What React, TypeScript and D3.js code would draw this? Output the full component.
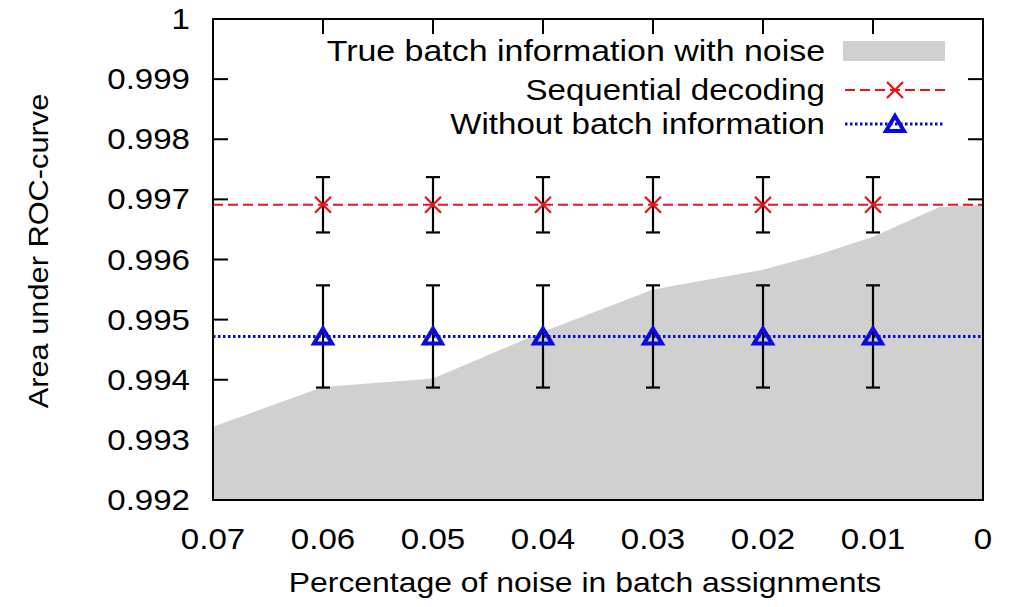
import React from "react";
import * as d3 from "d3";

const xTicks = [0.07, 0.06, 0.05, 0.04, 0.03, 0.02, 0.01, 0];
const xTickLabels = ["0.07", "0.06", "0.05", "0.04", "0.03", "0.02", "0.01", "0"];
const yTicks = [0.992, 0.993, 0.994, 0.995, 0.996, 0.997, 0.998, 0.999, 1];
const yTickLabels = ["0.992", "0.993", "0.994", "0.995", "0.996", "0.997", "0.998", "0.999", "1"];

const noiseLevel = [0.07, 0.06, 0.05, 0.04, 0.03, 0.02, 0.015, 0.01, 0.004, 0];
const noiseAuc = [0.99322, 0.99388, 0.99402, 0.9948, 0.9955, 0.99583, 0.99608, 0.99638, 0.99687, 0.99692];

const errX = [0.06, 0.05, 0.04, 0.03, 0.02, 0.01];
const seqMean = [0.99691, 0.99691, 0.99691, 0.99691, 0.99691, 0.99691];
const seqErr = [0.00046, 0.00046, 0.00046, 0.00046, 0.00046, 0.00046];
const noBatchMean = [0.99472, 0.99472, 0.99472, 0.99472, 0.99472, 0.99472];
const noBatchErr = [0.00085, 0.00085, 0.00085, 0.00085, 0.00085, 0.00085];

const legendLabels = ["True batch information with noise", "Sequential decoding", "Without batch information"];
const xTitle = "Percentage of noise in batch assignments";
const yTitle = "Area under ROC-curve";

const W = 1009, H = 607;
const L = 213, R = 983, T = 19, B = 500;
const FONT = "'Liberation Sans', Arial, Helvetica, sans-serif";
const SX = 1.14;
const RED = "#e8161c";
const BLUE = "#0a0ae0";
const GRAY = "#d0d0d0";

function T2({ x, y, anchor = "middle", size = 29, rotate = 0, sx = SX, children }: any) {
  return (
    <text
      transform={`translate(${x},${y}) rotate(${rotate}) scale(${sx},1)`}
      textAnchor={anchor}
      fontFamily={FONT}
      fontSize={size}
      fill="#000"
    >
      {children}
    </text>
  );
}

function Cross({ cx, cy }: { cx: number; cy: number }) {
  const s = 8;
  return (
    <path d={`M${cx - s},${cy - s}L${cx + s},${cy + s}M${cx - s},${cy + s}L${cx + s},${cy - s}`} stroke={RED} strokeWidth={2.3} fill="none" />
  );
}

function Tri({ cx, cy }: { cx: number; cy: number }) {
  const h = 14, w = 9;
  return (
    <path d={`M${cx},${cy - h / 2 - 1}L${cx + w},${cy + h / 2}L${cx - w},${cy + h / 2}Z`} stroke={BLUE} strokeWidth={4} fill="none" strokeLinejoin="miter" />
  );
}

export default function App() {
  const x = d3.scaleLinear().domain([0.07, 0]).range([L, R]);
  const y = d3.scaleLinear().domain([0.992, 1]).range([B, T]);

  const area = d3
    .area<number>()
    .x((_, i) => x(noiseLevel[i]))
    .y0(B)
    .y1((d) => y(d))
    .curve(d3.curveLinear)(noiseAuc) as string;

  const seqLine = d3.line<number>().x((d) => d).y(y(seqMean[0]))([L, R]) as string;
  const nbLine = d3.line<number>().x((d) => d).y(y(noBatchMean[0]))([L, R]) as string;

  const tickLen = 15;
  const cap = 7;

  return (
    <svg width={W} height={H} style={{ position: "absolute", left: 0, top: 0, background: "#fff" }}>
      <rect x={0} y={0} width={W} height={H} fill="#fff" />
      {/* ticks */}
      <g stroke="#000" strokeWidth={2}>
        {yTicks.map((t) => (
          <g key={"y" + t}>
            <line x1={L} x2={L + tickLen} y1={y(t)} y2={y(t)} />
            <line x1={R} x2={R - tickLen} y1={y(t)} y2={y(t)} />
          </g>
        ))}
        {xTicks.map((t) => (
          <g key={"x" + t}>
            <line x1={x(t)} x2={x(t)} y1={B} y2={B - tickLen} />
            <line x1={x(t)} x2={x(t)} y1={T} y2={T + tickLen} />
          </g>
        ))}
      </g>
      {/* gray area */}
      <path d={area} fill={GRAY} stroke="none" />
      {/* lines */}
      <path d={seqLine} stroke={RED} strokeWidth={2} strokeDasharray="10,5" fill="none" />
      <path d={nbLine} stroke={BLUE} strokeWidth={3} strokeDasharray="2.5,2.5" fill="none" />
      {/* error bars */}
      <g stroke="#000" strokeWidth={2.2}>
        {errX.map((v, i) => (
          <g key={"e1" + i}>
            <line x1={x(v)} x2={x(v)} y1={y(seqMean[i] + seqErr[i])} y2={y(seqMean[i] - seqErr[i])} />
            <line x1={x(v) - cap} x2={x(v) + cap} y1={y(seqMean[i] + seqErr[i])} y2={y(seqMean[i] + seqErr[i])} />
            <line x1={x(v) - cap} x2={x(v) + cap} y1={y(seqMean[i] - seqErr[i])} y2={y(seqMean[i] - seqErr[i])} />
            <line x1={x(v)} x2={x(v)} y1={y(noBatchMean[i] + noBatchErr[i])} y2={y(noBatchMean[i] - noBatchErr[i])} />
            <line x1={x(v) - cap} x2={x(v) + cap} y1={y(noBatchMean[i] + noBatchErr[i])} y2={y(noBatchMean[i] + noBatchErr[i])} />
            <line x1={x(v) - cap} x2={x(v) + cap} y1={y(noBatchMean[i] - noBatchErr[i])} y2={y(noBatchMean[i] - noBatchErr[i])} />
          </g>
        ))}
      </g>
      {errX.map((v, i) => (
        <Cross key={"c" + i} cx={x(v)} cy={y(seqMean[i])} />
      ))}
      {errX.map((v, i) => (
        <Tri key={"t" + i} cx={x(v)} cy={y(noBatchMean[i])} />
      ))}
      {/* frame */}
      <rect x={L} y={T} width={R - L} height={B - T} fill="none" stroke="#000" strokeWidth={2} />
      {/* tick labels */}
      {yTicks.map((t, i) => (
        <T2 key={"yl" + t} x={190} y={y(t) + 10} anchor="end">
          {yTickLabels[i]}
        </T2>
      ))}
      {xTicks.map((t, i) => (
        <T2 key={"xl" + t} x={x(t)} y={549} anchor="middle">
          {xTickLabels[i]}
        </T2>
      ))}
      {/* axis titles */}
      <T2 x={585} y={592} anchor="middle" size={28.5} sx={1.12}>{xTitle}</T2>
      <T2 x={48} y={251} anchor="middle" rotate={-90} size={28.5} sx={1.08}>{yTitle}</T2>
      {/* legend */}
      <T2 x={825} y={61} anchor="end" sx={1.17}>{legendLabels[0]}</T2>
      <rect x={843} y={41} width={102} height={20} fill={GRAY} />
      <T2 x={825} y={100} anchor="end">{legendLabels[1]}</T2>
      <line x1={845} x2={945} y1={90} y2={90} stroke={RED} strokeWidth={2} strokeDasharray="10,5" />
      <Cross cx={895} cy={90} />
      <T2 x={825} y={134} anchor="end">{legendLabels[2]}</T2>
      <line x1={845} x2={945} y1={124} y2={124} stroke={BLUE} strokeWidth={3} strokeDasharray="2.5,2.5" />
      <Tri cx={895} cy={124} />
    </svg>
  );
}
